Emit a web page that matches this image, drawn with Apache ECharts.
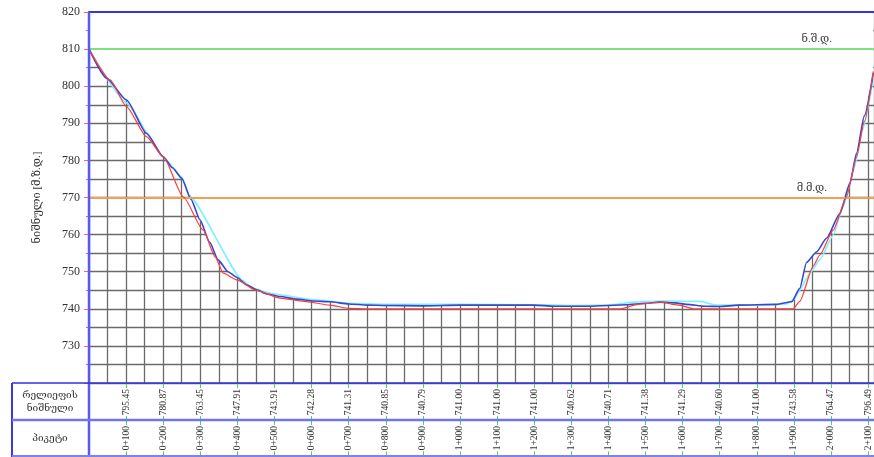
<!DOCTYPE html>
<html>
<head>
<meta charset="utf-8">
<script src="https://cdn.jsdelivr.net/npm/echarts@6/dist/echarts.min.js"></script>
<style>
  html, body { margin: 0; padding: 0; background: #fff; }
  #chart { width: 874px; height: 457px; }
</style>
</head>
<body>
<div id="chart"></div>
<script>
// stations every 100 m and ground levels written in the table
const stations = ['0+100', '0+200', '0+300', '0+400', '0+500', '0+600', '0+700', '0+800', '0+900', '1+000',
  '1+100', '1+200', '1+300', '1+400', '1+500', '1+600', '1+700', '1+800', '1+900', '2+000', '2+100']
const elevLabels = ['795.45', '780.87', '763.45', '747.91', '743.91', '742.28', '741.31', '740.85', '740.79', '741.00',
  '741.00', '741.00', '740.62', '740.71', '741.38', '741.29', '740.60', '741.00', '743.58', '764.47', '796.49']

// blue profile (distance m / level)
const blueDist = [0, 48, 101, 155, 200, 225, 250, 275, 299, 325, 348, 375, 398, 425, 452, 480, 515, 560,
  605, 650, 700, 750, 800, 900, 1000, 1100, 1200, 1252, 1350, 1449, 1500, 1539, 1580, 1611, 1660, 1701, 1750, 1854,
  1894, 1916, 1934, 1961, 1988, 2024, 2051, 2069, 2090, 2114]
const blueElev = [810, 802.1, 796.3, 787.3, 781, 778, 775.2, 769.5, 764, 758, 753.2, 750, 748.5,
  746.5, 745.1, 744, 743.3, 742.6, 742.1, 741.9, 741.3, 741.0, 740.9, 740.8, 741.0, 741.0, 741.0, 740.7, 740.7, 741.1,
  741.5, 741.8, 741.6, 741.2, 740.7, 740.6, 741.0, 741.2, 741.9, 745.5, 752.5, 755.3, 759, 765.7, 773.8, 781.9, 792, 803.5]

// red profile
const redDist = [0, 57, 101, 155, 200, 254, 308, 340, 362, 398, 450, 515, 580, 650, 700, 750, 1000, 1432, 1480, 1539,
  1590, 1629, 1898, 1916, 1952, 1970, 2006, 2042, 2069, 2090, 2114]
const redElev = [810, 801.7, 794.5, 786.4, 781, 770.2, 761.2, 754, 749.6, 747.8, 745, 742.9, 742, 741, 740.1, 740, 740,
  740, 741.2, 741.8, 741.0, 740, 740, 742, 751.5, 754.5, 761.2, 770.2, 780.9, 790.5, 804]

// cyan profile
const cyanDist = [0, 101, 200, 250, 270, 415, 440, 500, 600, 700, 800, 1000, 1200, 1300, 1400, 1470, 1540, 1647, 1690, 1800,
  1880, 1900, 1916, 1943, 1970, 2006, 2033, 2060, 2085, 2114]
const cyanElev = [810, 795.5, 781, 775.5, 770.5, 747.6, 745.5, 744, 742.5, 741.5, 741.2, 741.2, 741.1, 740.9, 741.0, 741.8, 742.1,
  742.0, 741.0, 741.0, 741.3, 742.5, 745, 749.6, 753.2, 759.9, 767.5, 777, 788, 802]

// horizontal reference levels
const levelValues = [810, 770]
const levelNames = ['ნ.შ.დ.', 'მ.მ.დ.']

const GRID_LEFT = 89
const GRID_TOP = 12
const PLOT_BOTTOM = 383
const ROW_H = 37
const W = 874
const X_MAX = 2116
const SERIF = '"Liberation Serif", "DejaVu Serif", serif'

const pairs = (xs, ys) => xs.map((x, i) => [x, ys[i]])

function hline(y, x1, x2, color, width) {
  return { type: 'line', z: 100, shape: { x1, y1: y, x2, y2: y }, style: { stroke: color, lineWidth: width } }
}
function vline(x, y1, y2, color, width) {
  return { type: 'line', z: 100, shape: { x1: x, y1, x2: x, y2 }, style: { stroke: color, lineWidth: width } }
}

function buildOption() {
  const gridLine = { color: '#6a6a6a', width: 1.3 }
  return {
    backgroundColor: '#fff',
    animation: false,
    grid: { left: GRID_LEFT, top: GRID_TOP, right: 0, bottom: 457 - PLOT_BOTTOM },
    xAxis: [
      {
        type: 'value', min: 0, max: X_MAX, interval: 100, position: 'bottom',
        axisLine: { show: false },
        axisTick: { show: true, length: ROW_H, lineStyle: { color: '#44dd44', width: 1 } },
        minorTick: { show: false, splitNumber: 2 },
        splitLine: { show: true, lineStyle: gridLine },
        minorSplitLine: { show: true, lineStyle: gridLine },
        axisLabel: {
          rotate: 90, margin: 5, fontFamily: SERIF, fontSize: 9.5, color: '#333',
          backgroundColor: '#fff', padding: [0, 1],
          formatter: (v) => {
            const k = Math.round(v)
            if (k % 100 !== 0 || k < 100 || k > 2100) return ''
            return elevLabels[k / 100 - 1]
          },
        },
      },
      {
        type: 'value', min: 0, max: X_MAX, interval: 100, position: 'bottom', offset: ROW_H,
        axisLine: { show: false },
        axisTick: { show: true, length: ROW_H, lineStyle: { color: '#44dd44', width: 1 } },
        splitLine: { show: false },
        axisLabel: {
          rotate: 90, margin: 5, fontFamily: SERIF, fontSize: 9.5, color: '#333',
          backgroundColor: '#fff', padding: [0, 1],
          formatter: (v) => {
            const k = Math.round(v)
            if (k % 100 !== 0 || k < 100 || k > 2100) return ''
            return stations[k / 100 - 1]
          },
        },
      },
      {
        type: 'value', min: 0, max: X_MAX, position: 'top', z: 5,
        axisLine: { show: true, lineStyle: { color: '#3535e0', width: 2 } },
        axisTick: { show: false }, axisLabel: { show: false }, splitLine: { show: false },
      },
    ],
    yAxis: {
      type: 'value', min: 720, max: 820, interval: 10,
      name: 'ნიშნული [მ.ზ.დ.]', nameLocation: 'middle', nameGap: 46,
      nameTextStyle: { fontFamily: SERIF, fontSize: 11, color: '#333' },
      axisLine: { show: false },
      axisTick: { show: true, length: 5, lineStyle: { color: '#ff6060', width: 1 } },
      minorTick: { show: true, splitNumber: 2, length: 3, lineStyle: { color: '#8080ff' } },
      splitLine: { show: true, lineStyle: gridLine },
      minorSplitLine: { show: true, lineStyle: gridLine },
      axisLabel: {
        margin: 9, fontFamily: SERIF, fontSize: 12, color: '#333',
        formatter: (v) => (v <= 720 ? '' : String(v)),
      },
    },
    series: [
      {
        // white cover above the ground line hides the hatch grid
        type: 'line', data: pairs(blueDist, blueElev), symbol: 'none', z: 1, silent: true,
        lineStyle: { width: 0 }, areaStyle: { color: '#fff', opacity: 1, origin: 'end' },
      },
      {
        type: 'line', data: pairs(cyanDist, cyanElev), symbol: 'none', z: 3,
        smooth: 0.15, smoothMonotone: 'x',
        lineStyle: { color: '#7ef0ff', width: 1.6 },
      },
      {
        type: 'line', data: pairs(blueDist, blueElev), symbol: 'none', z: 4,
        smooth: 0.2, smoothMonotone: 'x',
        lineStyle: { color: '#3848c8', width: 1.6 },
      },
      {
        type: 'line', data: pairs(redDist, redElev), symbol: 'none', z: 5,
        smooth: 0.2, smoothMonotone: 'x',
        lineStyle: { color: '#ff3b3b', width: 1.2 },
        markLine: {
          silent: true, symbol: 'none',
          data: [
            {
              yAxis: levelValues[0], lineStyle: { color: '#7de27d', width: 2, type: 'solid' },
              label: { formatter: levelNames[0], position: 'insideEndTop', distance: [42, 4], fontFamily: SERIF, fontSize: 11, color: '#444' },
            },
            {
              yAxis: levelValues[1], lineStyle: { color: '#f0a050', width: 2, type: 'solid' },
              label: { formatter: levelNames[1], position: 'insideEndTop', distance: [47, 4], fontFamily: SERIF, fontSize: 11, color: '#444' },
            },
          ],
        },
      },
    ],
    graphic: [
      vline(GRID_LEFT, GRID_TOP, 457, '#5858f5', 2.5),
      vline(12, PLOT_BOTTOM, 457, '#3a3ae0', 2),
      hline(PLOT_BOTTOM, 12, W, '#3030dd', 1.5),
      hline(PLOT_BOTTOM + ROW_H, 12, W, '#7474f0', 2.5),
      hline(456, 12, W, '#8080f5', 2),
      {
        type: 'text', z: 100, x: 50, y: PLOT_BOTTOM + ROW_H / 2,
        style: { text: 'რელიეფის\nნიშნული', font: '10px ' + SERIF, fill: '#333', align: 'center', verticalAlign: 'middle', lineHeight: 13 },
      },
      {
        type: 'text', z: 100, x: 50, y: PLOT_BOTTOM + ROW_H * 1.5,
        style: { text: 'პიკეტი', font: '10px ' + SERIF, fill: '#333', align: 'center', verticalAlign: 'middle' },
      },
    ],
  }
}

const chart = echarts.init(document.getElementById('chart'))
chart.setOption(buildOption())
window.addEventListener('resize', () => chart.resize())
</script>
</body>
</html>
